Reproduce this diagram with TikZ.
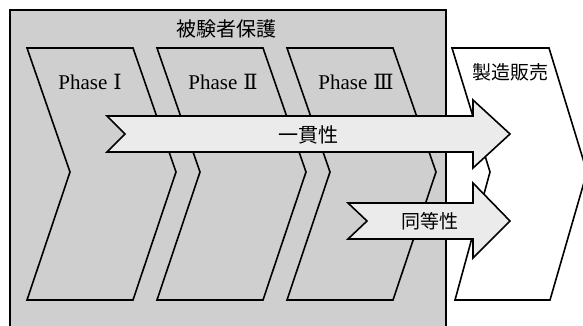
\documentclass[tikz,border=0pt]{standalone}
\usepackage{fontspec}
\setmainfont{Liberation Serif}
\newfontfamily\jp{Noto Sans CJK JP}
\newfontfamily\rom{DejaVu Serif}
\begin{document}
\begin{tikzpicture}[x=1pt,y=-1pt,
  panel/.style={fill=gray!38,draw=black,line width=1.2pt},
  chevron/.style={draw=black,line width=1.6pt,line join=miter},
  target/.style={fill=white,draw=black,line width=1.6pt},
  flow/.style={fill=gray!16,draw=black,line width=1.6pt},
  jplabel/.style={font=\jp\fontsize{19}{19}\selectfont,inner sep=0pt},
  phaselabel/.style={font=\fontsize{21}{21}\selectfont,inner sep=0pt}]
\useasboundingbox (0,0) rectangle (583,326);
\begin{scope}
\clip (0,0) rectangle (583,326);
% background panel
\draw[panel] (10,10) rectangle (446,340);
% chevrons
\foreach \x in {27,157,287}{
  \draw[chevron] (\x,48) -- (\x+106,48) -- (\x+149,172) -- (\x+106,300)
     -- (\x,300) -- (\x+43,172) -- cycle;
}
% target shape
\draw[target] (452,48) -- (549,48) -- (587,172) -- (550,300) -- (455,300) -- (490,172) -- cycle;
% arrows
\draw[flow] (107,116) -- (473,116) -- (473,100) -- (510,134) -- (473,168)
   -- (473,152) -- (107,152) -- (125,134) -- cycle;
\draw[flow] (348,203) -- (473,203) -- (473,183) -- (510,221) -- (473,258)
   -- (473,239) -- (348,239) -- (367,221) -- cycle;
\end{scope}
% labels
\node[jplabel,font=\jp\fontsize{20}{20}\selectfont] (title) at (226,29) {被験者保護};
\node[phaselabel] (p1) at (90,82) {Phase\hspace{6pt}{\rom Ⅰ}};
\node[phaselabel] (p2) at (223,82) {Phase\hspace{6pt}{\rom Ⅱ}};
\node[phaselabel] (p3) at (356,82) {Phase\hspace{6pt}{\rom Ⅲ}};
\node[jplabel] (sales) at (510,72) {製造販売};
\node[jplabel,font=\jp\fontsize{20}{20}\selectfont] (consist) at (308,135) {一貫性};
\node[jplabel] (equiv) at (430,221) {同等性};
\end{tikzpicture}
\end{document}
